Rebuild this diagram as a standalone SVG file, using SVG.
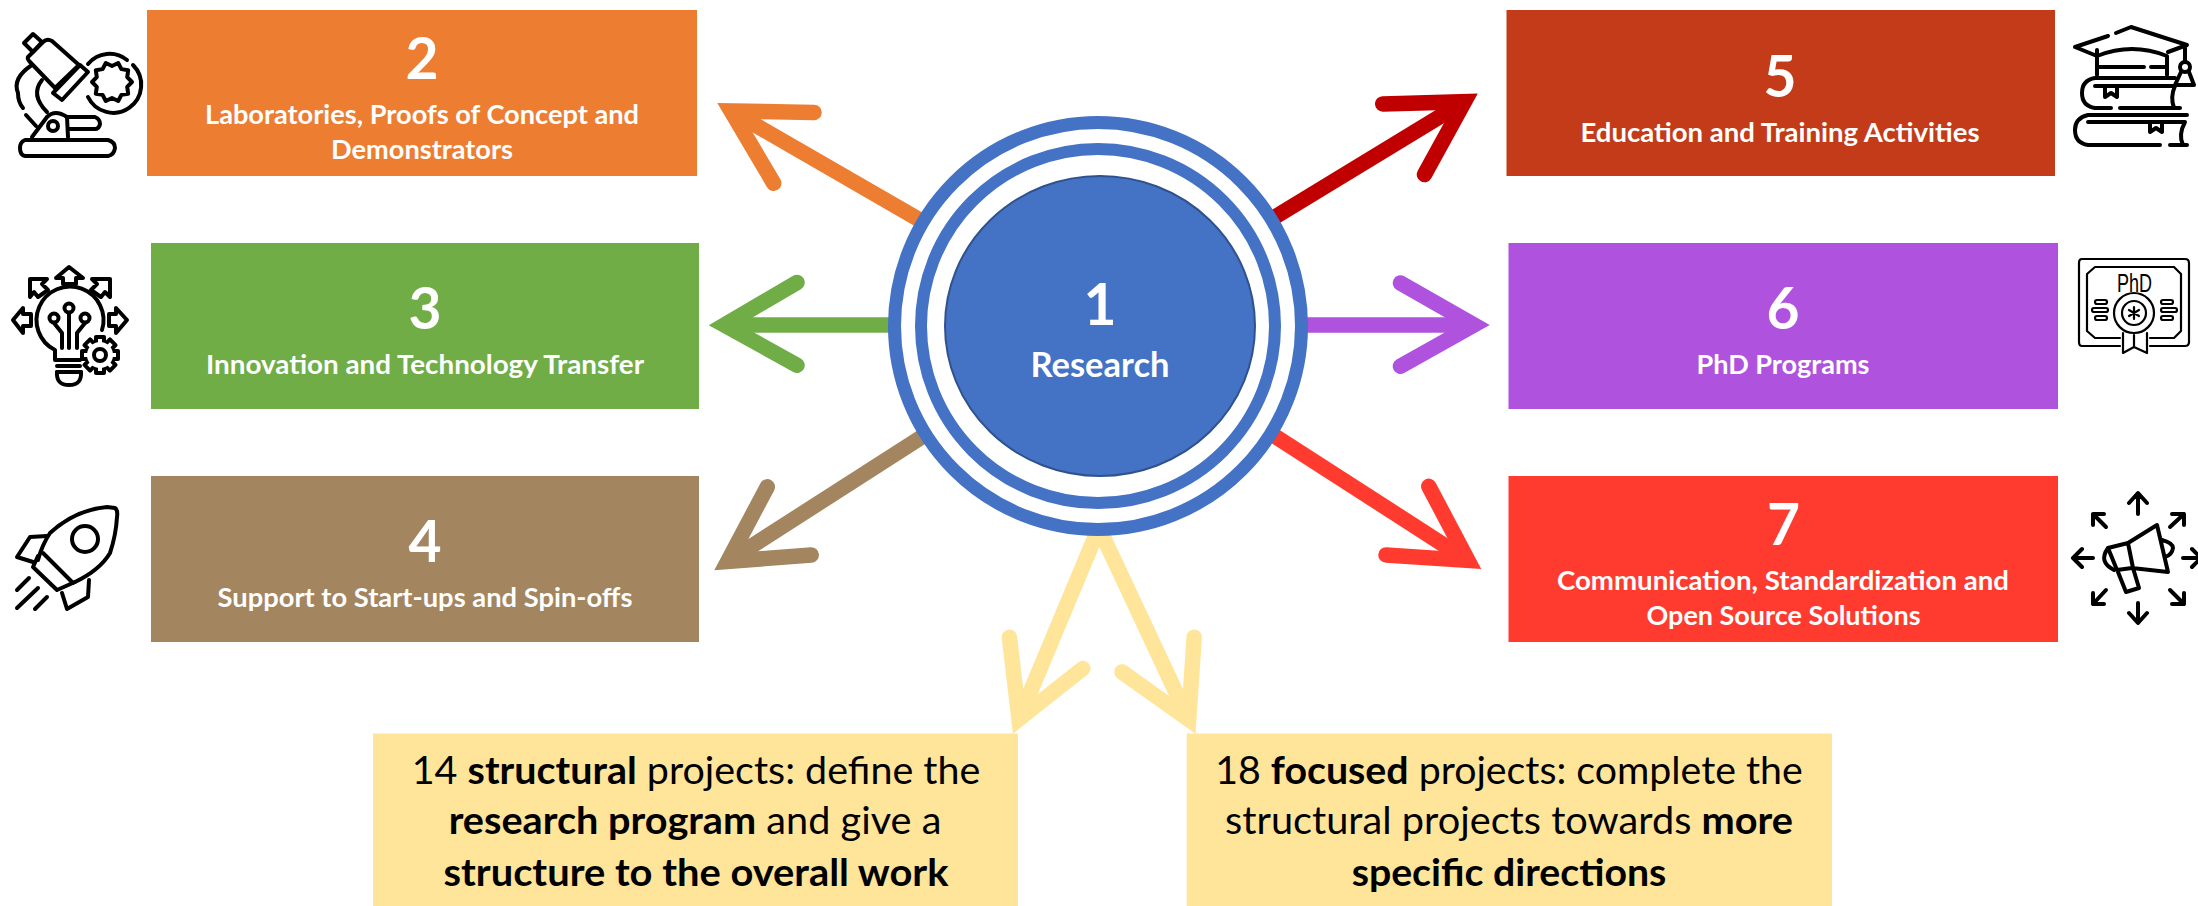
<svg xmlns="http://www.w3.org/2000/svg" width="2198" height="906" viewBox="0 0 2198 906">
<style>
text{font-family:"Lato","Liberation Sans",sans-serif;text-anchor:middle}
.n{font-size:57px;font-weight:700;fill:#fff}
.l{font-size:27.5px;font-weight:700;fill:#fff}
.y{font-size:38.5px;fill:#000}
.y tspan{font-weight:700}
.a{fill:none;stroke-width:15.5;stroke-linecap:round;stroke-linejoin:miter;stroke-miterlimit:12}
.s{fill:none;stroke-width:15.5;stroke-linecap:butt}
.i{fill:none;stroke:#000;stroke-width:4;stroke-linecap:round;stroke-linejoin:round}
.t{stroke-width:2.2}
.w{fill:#fff}
</style>
<rect width="2198" height="906" fill="#fff"/>
<g id="connectors">
<path class="s" stroke="#ED7D31" d="M925 223L731 111"/><path class="a" stroke="#ED7D31" d="M814 112.5L731 111L773.7 183.2"/>
<path class="s" stroke="#70AD47" d="M895 325H724"/><path class="a" stroke="#70AD47" d="M797 282.5L724.4 325L797 365.3"/>
<path class="s" stroke="#A38560" d="M928 433L727.7 561.5"/><path class="a" stroke="#A38560" d="M767.3 486.8L727.7 561.5L811.2 554.9"/>
<path class="s" stroke="#C00000" d="M1270 220L1464.5 101.7"/><path class="a" stroke="#C00000" d="M1382.7 103.9L1464.5 101.7L1424.5 174.5"/>
<path class="s" stroke="#AF52DE" d="M1300 325H1474"/><path class="a" stroke="#AF52DE" d="M1400.4 283L1474 325L1400.4 366.2"/>
<path class="s" stroke="#FF3B30" d="M1270 433L1467.9 560.4"/><path class="a" stroke="#FF3B30" d="M1428.8 486.3L1467.9 560.4L1386 554.9"/>
<path class="s" stroke="#FFE599" d="M1098 530L1019 719"/><path class="a" stroke="#FFE599" d="M1009.4 637.2L1019 719L1082.8 668.5"/>
<path class="s" stroke="#FFE599" d="M1100 530L1188.7 719.5"/><path class="a" stroke="#FFE599" d="M1194.2 637.2L1188.7 719.5L1121.9 671.9"/>
</g>
<g id="node-1">
<circle cx="1098" cy="326" r="203.5" fill="#fff" stroke="#4472C4" stroke-width="13"/>
<circle cx="1098" cy="326" r="177" fill="#fff" stroke="#4472C4" stroke-width="12"/>
<ellipse cx="1100" cy="326" rx="155" ry="150" fill="#4472C4" stroke="#2F528F" stroke-width="2"/>
<text class="n" x="1100" y="325">1</text><text class="l" x="1100" y="377" style="font-size:34.5px" textLength="139" lengthAdjust="spacingAndGlyphs">Research</text>
</g>
<g id="node-2"><rect x="147" y="10" width="550" height="166" fill="#ED7D31"/><text class="n" x="422" y="79">2</text><text class="l" x="422" y="124" textLength="434" lengthAdjust="spacingAndGlyphs">Laboratories, Proofs of Concept and</text><text class="l" x="422" y="159" textLength="182" lengthAdjust="spacingAndGlyphs">Demonstrators</text></g>
<g id="node-3"><rect x="151" y="243" width="548" height="166" fill="#70AD47"/><text class="n" x="425" y="329">3</text><text class="l" x="425" y="374" textLength="438" lengthAdjust="spacingAndGlyphs">Innovation and Technology Transfer</text></g>
<g id="node-4"><rect x="151" y="476" width="548" height="166" fill="#A38560"/><text class="n" x="425" y="562">4</text><text class="l" x="425" y="607" textLength="415" lengthAdjust="spacingAndGlyphs">Support to Start-ups and Spin-offs</text></g>
<g id="node-5"><rect x="1506.5" y="10" width="548.5" height="166" fill="#C33B18"/><text class="n" x="1780" y="97">5</text><text class="l" x="1780" y="142" textLength="399" lengthAdjust="spacingAndGlyphs">Education and Training Activities</text></g>
<g id="node-6"><rect x="1508.5" y="243" width="549.5" height="166" fill="#AF52DE"/><text class="n" x="1783" y="329">6</text><text class="l" x="1783" y="374" textLength="173" lengthAdjust="spacingAndGlyphs">PhD Programs</text></g>
<g id="node-7"><rect x="1508.5" y="476" width="549.5" height="166" fill="#FF3B30"/><text class="n" x="1783.5" y="545">7</text><text class="l" x="1783" y="590" textLength="452" lengthAdjust="spacingAndGlyphs">Communication, Standardization and</text><text class="l" x="1783.5" y="625" textLength="274" lengthAdjust="spacingAndGlyphs">Open Source Solutions</text></g>
<g id="node-structural"><rect x="373" y="733.5" width="645" height="172.5" fill="#FFE599"/><text class="y" x="696" y="784" textLength="568.6" lengthAdjust="spacingAndGlyphs">14 <tspan>structural</tspan> projects: define the</text><text class="y" x="695" y="834" textLength="492.7" lengthAdjust="spacingAndGlyphs"><tspan>research program</tspan> and give a</text><text class="y" x="696" y="885.5" textLength="505" lengthAdjust="spacingAndGlyphs"><tspan>structure to the overall work</tspan></text></g>
<g id="node-focused"><rect x="1186.7" y="733.5" width="645.3" height="172.5" fill="#FFE599"/><text class="y" x="1509" y="784" textLength="587.5" lengthAdjust="spacingAndGlyphs">18 <tspan>focused</tspan> projects: complete the</text><text class="y" x="1509" y="834" textLength="568" lengthAdjust="spacingAndGlyphs">structural projects towards <tspan>more</tspan></text><text class="y" x="1509" y="885.5" textLength="314.7" lengthAdjust="spacingAndGlyphs"><tspan>specific directions</tspan></text></g>
<g id="icon-microscope" class="i">
<path d="M24 43L33 34L42 42L33 52Z"/>
<path d="M28 57L43 42Q47 38 52 41L79 65L55 88L30 62Q27 59 28 57Z"/>
<path d="M53 93L62 100L88 72L80 65Z"/>
<path d="M88 64A28 28 0 0 1 127 60M133 65A28 28 0 1 1 88 97"/>
<path transform="translate(112 82)" d="M20 0L15.2 4.9L16.2 11.8L9.4 12.9L6.2 19L0 16L-6.2 19L-9.4 12.9L-16.2 11.8L-15.2 4.9L-20 0L-15.2 -4.9L-16.2 -11.8L-9.4 -12.9L-6.2 -19L0 -16L6.2 -19L9.4 -12.9L16.2 -11.8L15.2 -4.9Z"/>
<path d="M32 65Q12 78 18 93Q18 102 23 108M26 115L36 126"/>
<path d="M42 80Q30 95 47 112"/>
<path d="M32 137L47 117Q55 109 67 117L68 137M67 117H95Q100 119 100 124Q99 129 95 129H68"/>
<circle cx="53" cy="126" r="5"/>
<path d="M25 140H108Q115 142 115 148Q114 155 108 156H25Q20 155 20 148Q20 142 25 140Z"/>
</g>
<g id="icon-bulb" class="i">
<path d="M102 330A33.5 33.5 0 1 0 55 350V360H80"/><path d="M57 366H80M57 372H81"/>
<path d="M57 372Q56 385 69 385Q82 385 81 372"/>
<circle cx="69" cy="308" r="4.5"/><circle cx="54" cy="318" r="4.5"/><circle cx="85" cy="318" r="4.5"/>
<path d="M69 313V348M54 323L62 333V348M85 323L77 333V348"/>
<g transform="translate(100 355)"><rect x="-4" y="-18" width="8" height="36" class="w"/><rect x="-4" y="-18" width="8" height="36" class="w" transform="rotate(45)"/><rect x="-4" y="-18" width="8" height="36" class="w" transform="rotate(90)"/><rect x="-4" y="-18" width="8" height="36" class="w" transform="rotate(135)"/><circle r="13" class="w" style="stroke:none"/><circle r="6"/></g>
<path d="M69 267L83 278H76V284H63V278H56Z"/>
<path d="M30 279L47 279L42 284L48 290L38 297L34 292L30 297Z"/>
<path d="M110 279L92 279L97 284L91 290L101 297L105 292L110 297Z"/>
<path d="M13 320L23 308V314H31V326H23V333Z"/>
<path d="M127 320L116 308V314H109V326H116V333Z"/>
</g>
<g id="icon-rocket" class="i">
<path d="M107 507Q75 510 50 533Q42 545 38 560M115 508Q118 510 117 517Q116 535 110 553Q100 570 75 582M107 507L115 508"/>
<circle cx="85" cy="539" r="13"/>
<path d="M43 553L73 583M38 556L33 567L57 590L75 582M47 536L30 537L17 557L33 562M89 580L88 597L67 609L62 593"/>
<path d="M17 590L29 578M17 608L38 588M35 609L47 597"/>
</g>
<g id="icon-books" class="i" transform="translate(2040 0)">
<path d="M76 33L91 27L147 45L128 52M68 36L35 47L57 56M57 50V75M57 56Q92 42 127 56V75M57 67H104M111 67H125"/>
<path d="M145 48V62"/><circle cx="145" cy="67" r="5"/><path d="M141 72L135 85H154L149 72"/>
<path d="M135 78H55Q42 80 42 93Q42 106 55 108H71M80 108H140M55 86H135M135 86Q130 97 134 108M65 86V97L71 93L77 97V86"/>
<path d="M147 115H48Q35 118 35 130Q35 143 48 145H120M130 145H147M48 122H145M145 122Q138 135 143 145M110 122V132L116 128L122 132V122"/>
</g>
<g id="icon-phd" class="i t">
<path d="M2150 346H2185Q2189 346 2189 342V263Q2189 259 2185 259H2082Q2079 259 2079 263V342Q2079 346 2082 346H2120"/>
<path d="M2120 338H2095L2087 331V274L2095 267H2174L2181 274V331L2174 338H2150"/>
<text x="2134.5" y="292" textLength="35" lengthAdjust="spacingAndGlyphs" style="font-family:'Liberation Sans',sans-serif;font-size:26px;fill:#000;stroke:none">PhD</text>
<circle cx="2134" cy="313" r="20"/><circle cx="2134" cy="313" r="12"/><path d="M2134 307V319M2129 310L2139 316M2139 310L2129 316"/>
<rect x="2095" y="300" width="12" height="4" rx="2"/><rect x="2092" y="308" width="16" height="4" rx="2"/><rect x="2095" y="316" width="12" height="4" rx="2"/>
<rect x="2161" y="300" width="12" height="4" rx="2"/><rect x="2161" y="308" width="16" height="4" rx="2"/><rect x="2161" y="316" width="12" height="4" rx="2"/>
<path d="M2123 333V353L2134 347L2147 353V333M2134 335V347"/>
</g>
<g id="icon-megaphone" class="i">
<path d="M2108 548L2128 543L2157 525L2168 572L2132 568L2117 570ZM2128 543L2133 568M2162 540Q2173 543 2173 548Q2172 555 2165 557M2118 572L2126 592L2139 588L2133 568"/>
<path d="M2108 548Q2098 562 2114 570"/>
<path d="M2138 495V514M2129 503L2138 493L2147 503M2138 603V622M2129 613L2138 623L2147 613M2093 558H2075M2082 549L2073 558L2082 567M2183 558H2200M2192 549L2201 558L2192 567"/>
<path d="M2106 527L2093 514M2093 525V514H2104M2170 527L2184 514M2184 525V514H2172M2106 590L2093 604M2093 593V604H2104M2170 590L2184 604M2184 593V604H2172"/>
</g>
</svg>
